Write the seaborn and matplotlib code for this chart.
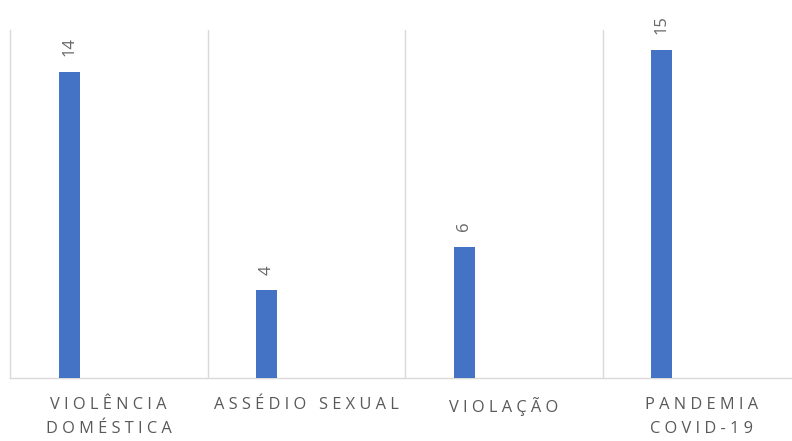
import matplotlib
matplotlib.use("Agg")
import matplotlib.pyplot as plt
import seaborn as sns
import pandas as pd

categories = ["VIOLÊNCIA DOMÉSTICA", "ASSÉDIO SEXUAL", "VIOLAÇÃO", "PANDEMIA COVID-19"]
tick_labels = ["VIOLÊNCIA\nDOMÉSTICA", "ASSÉDIO SEXUAL", "VIOLAÇÃO", "PANDEMIA\nCOVID-19"]
values = [14, 4, 6, 15]

sns.set_theme(style="white")
plt.rcParams["font.family"] = ["Open Sans", "DejaVu Sans"]

def spaced(s):
    lines = []
    for line in s.split("\n"):
        words = [" ".join(list(w)) for w in line.split(" ")]
        lines.append("   ".join(words))
    return "\n".join(lines)

df = pd.DataFrame({"cat": categories, "val": values})

fig = plt.figure(figsize=(7.92, 4.41), dpi=100)
ax = fig.add_axes([10 / 792, 63 / 441, 790 / 792, 348 / 441])

sns.barplot(data=df, x="cat", y="val", color="#4472C4", width=0.106,
            saturation=1, ax=ax, zorder=3)
for p in ax.patches:
    p.set_x(p.get_x() - 0.199)
    p.set_edgecolor("none")

ax.set_xlim(-0.5, 3.5)
ax.set_ylim(0, 15.9)

for xv in [0.5, 1.5, 2.5, 3.5]:
    ax.axvline(xv, color="#d9d9d9", lw=1, zorder=1)

for c in ax.containers:
    ax.bar_label(c, labels=[str(v) for v in values], rotation=90, padding=11,
                 color="#666666", fontsize=12)

ax.set_xticks(range(len(categories)))
ax.set_xticklabels([spaced(t) for t in tick_labels], color="#595959",
                   fontsize=11.8, linespacing=1.6)
ax.tick_params(axis="x", length=0, pad=14)
ax.set_yticks([])
ax.set_xlabel("")
ax.set_ylabel("")
for s in ["top", "right"]:
    ax.spines[s].set_visible(False)
for s in ["left", "bottom"]:
    ax.spines[s].set_color("#d9d9d9")
    ax.spines[s].set_linewidth(1)

fig.savefig("out.png", dpi=100)
